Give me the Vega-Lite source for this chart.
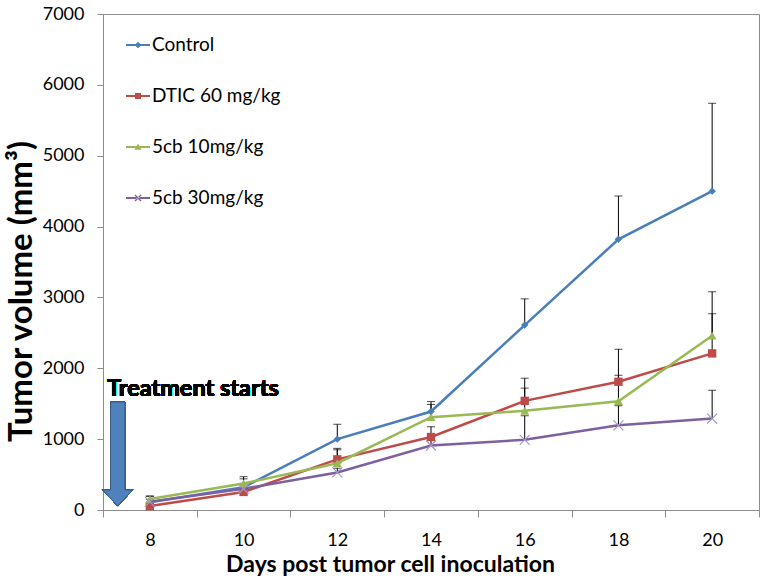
{
  "$schema": "https://vega.github.io/schema/vega-lite/v6.json",
  "width": 656,
  "height": 496,
  "autosize": {"type": "none"},
  "padding": {"left": 103, "top": 14, "right": 7, "bottom": 70},
  "background": "white",
  "config": {
    "view": {"stroke": "#8c8c8c", "strokeWidth": 1},
    "font": "Lato",
    "axis": {"grid": false, "labelColor": "#000000", "titleColor": "#000000", "domainColor": "#8c8c8c", "tickColor": "#8c8c8c"}
  },
  "data": {
    "values": [
      {"day": 8, "series": "Control", "volume": 110, "upper": 200},
      {"day": 10, "series": "Control", "volume": 320, "upper": 470},
      {"day": 12, "series": "Control", "volume": 1000, "upper": 1210},
      {"day": 14, "series": "Control", "volume": 1390, "upper": 1530},
      {"day": 16, "series": "Control", "volume": 2610, "upper": 2980},
      {"day": 18, "series": "Control", "volume": 3820, "upper": 4430},
      {"day": 20, "series": "Control", "volume": 4500, "upper": 5740},
      {"day": 8, "series": "DTIC 60 mg/kg", "volume": 55, "upper": 80},
      {"day": 10, "series": "DTIC 60 mg/kg", "volume": 255, "upper": 300},
      {"day": 12, "series": "DTIC 60 mg/kg", "volume": 715, "upper": 870},
      {"day": 14, "series": "DTIC 60 mg/kg", "volume": 1030, "upper": 1175},
      {"day": 16, "series": "DTIC 60 mg/kg", "volume": 1540, "upper": 1860},
      {"day": 18, "series": "DTIC 60 mg/kg", "volume": 1810, "upper": 2270},
      {"day": 20, "series": "DTIC 60 mg/kg", "volume": 2210, "upper": 2770},
      {"day": 8, "series": "5cb 10mg/kg", "volume": 155, "upper": 190},
      {"day": 10, "series": "5cb 10mg/kg", "volume": 375, "upper": 440},
      {"day": 12, "series": "5cb 10mg/kg", "volume": 660, "upper": 850},
      {"day": 14, "series": "5cb 10mg/kg", "volume": 1310, "upper": 1490},
      {"day": 16, "series": "5cb 10mg/kg", "volume": 1400, "upper": 1720},
      {"day": 18, "series": "5cb 10mg/kg", "volume": 1535, "upper": 1900},
      {"day": 20, "series": "5cb 10mg/kg", "volume": 2460, "upper": 3080},
      {"day": 8, "series": "5cb 30mg/kg", "volume": 115, "upper": 150},
      {"day": 10, "series": "5cb 30mg/kg", "volume": 300, "upper": 350},
      {"day": 12, "series": "5cb 30mg/kg", "volume": 530, "upper": 590},
      {"day": 14, "series": "5cb 30mg/kg", "volume": 910, "upper": 1000},
      {"day": 16, "series": "5cb 30mg/kg", "volume": 990, "upper": 1330},
      {"day": 18, "series": "5cb 30mg/kg", "volume": 1195, "upper": 1470},
      {"day": 20, "series": "5cb 30mg/kg", "volume": 1290, "upper": 1690}
    ]
  },
  "resolve": {"axis": {"x": "independent"}},
  "layer": [
    {
      "mark": {"type": "rule", "color": "#000000", "strokeWidth": 1},
      "encoding": {
        "x": {"field": "day", "type": "quantitative", "scale": {"domain": [7, 21], "nice": false, "zero": false},
          "axis": {"orient": "bottom", "values": [7, 9, 11, 13, 15, 17, 19, 21], "labels": false, "tickSize": 7, "title": null}},
        "y": {"field": "volume", "type": "quantitative", "scale": {"domain": [0, 7000], "nice": false},
          "axis": {"values": [0, 1000, 2000, 3000, 4000, 5000, 6000, 7000], "format": "d", "tickSize": 6, "labelFontSize": 18, "labelPadding": 13,
            "title": "Tumor volume (mm³)", "titleFont": "Lato", "titleFontWeight": "bold", "titleFontSize": 33,
            "titleAngle": -90, "titleX": -72, "titleY": 277, "titleAlign": "center", "titleBaseline": "alphabetic"}},
        "y2": {"field": "upper"}
      }
    },
    {
      "mark": {"type": "tick", "color": "#000000", "thickness": 1, "size": 8, "orient": "horizontal"},
      "encoding": {
        "x": {"field": "day", "type": "quantitative",
          "axis": {"orient": "bottom", "values": [8, 10, 12, 14, 16, 18, 20], "ticks": false, "tickSize": 0, "domain": false, "labelFontSize": 18, "labelPadding": 21,
            "title": "Days post tumor cell inoculation", "titleFont": "Lato", "titleFontWeight": "bold", "titleFontSize": 23,
            "titleX": 287, "titleY": 61, "titleAlign": "center", "titleBaseline": "alphabetic"}},
        "y": {"field": "upper", "type": "quantitative"}
      }
    },
    {
      "transform": [{"filter": "datum.series === 'Control'"}],
      "mark": {"type": "line", "color": "#4a7ebb", "strokeWidth": 2.5,
        "point": {"shape": "diamond", "filled": true, "color": "#4a7ebb", "size": 55, "opacity": 1}},
      "encoding": {"x": {"field": "day", "type": "quantitative", "axis": null}, "y": {"field": "volume", "type": "quantitative"}}
    },
    {
      "transform": [{"filter": "datum.series === 'DTIC 60 mg/kg'"}],
      "mark": {"type": "line", "color": "#be4b48", "strokeWidth": 2.5,
        "point": {"shape": "square", "filled": true, "color": "#be4b48", "size": 70, "opacity": 1}},
      "encoding": {"x": {"field": "day", "type": "quantitative", "axis": null}, "y": {"field": "volume", "type": "quantitative"}}
    },
    {
      "transform": [{"filter": "datum.series === '5cb 10mg/kg'"}],
      "mark": {"type": "line", "color": "#98b954", "strokeWidth": 2.5,
        "point": {"shape": "triangle-up", "filled": true, "color": "#98b954", "size": 80, "opacity": 1}},
      "encoding": {"x": {"field": "day", "type": "quantitative", "axis": null}, "y": {"field": "volume", "type": "quantitative"}}
    },
    {
      "transform": [{"filter": "datum.series === '5cb 30mg/kg'"}],
      "mark": {"type": "line", "color": "#7d60a0", "strokeWidth": 2.5,
        "point": {"shape": "M-1,-1L1,1M-1,1L1,-1", "filled": false, "color": "#a897c4", "strokeWidth": 1.2, "size": 100, "opacity": 1}},
      "encoding": {"x": {"field": "day", "type": "quantitative", "axis": null}, "y": {"field": "volume", "type": "quantitative"}}
    },
    {
      "mark": {"type": "point", "filled": true, "clip": true, "opacity": 1},
      "encoding": {
        "x": {"field": "day", "type": "quantitative", "axis": null},
        "y": {"datum": -3000, "type": "quantitative"},
        "color": {"field": "series", "type": "nominal",
          "scale": {"domain": ["Control", "DTIC 60 mg/kg", "5cb 10mg/kg", "5cb 30mg/kg"], "range": ["#4a7ebb", "#be4b48", "#98b954", "#7d60a0"]},
          "legend": {"orient": "none", "legendX": 22, "legendY": 18, "title": null, "padding": 0, "labelFont": "Lato", "labelFontSize": 19,
            "labelColor": "#000000", "symbolSize": 576, "rowPadding": 28, "labelOffset": 1, "symbolOpacity": 1}},
        "shape": {"field": "series", "type": "nominal",
          "scale": {"domain": ["Control", "DTIC 60 mg/kg", "5cb 10mg/kg", "5cb 30mg/kg"],
            "range": [
              "M-1,-0.09L1,-0.09L1,0.09L-1,0.09ZM0,-0.27L0.27,0L0,0.27L-0.27,0Z",
              "M-1,-0.09L1,-0.09L1,0.09L-1,0.09ZM-0.25,-0.25L0.25,-0.25L0.25,0.25L-0.25,0.25Z",
              "M-1,-0.09L1,-0.09L1,0.09L-1,0.09ZM0,-0.3L0.3,0.22L-0.3,0.22Z",
              "M-1,-0.09L1,-0.09L1,0.09L-1,0.09ZM-0.29,-0.21L-0.21,-0.29L0.29,0.21L0.21,0.29ZM-0.29,0.21L-0.21,0.29L0.29,-0.21L0.21,-0.29Z"
            ]}}
      }
    },
    {
      "mark": {"type": "point", "shape": "M-0.138,-1L0.138,-1L0.138,0.69L0.288,0.69L0,1L-0.288,0.69L-0.138,0.69Z",
        "filled": true, "fill": "#4f81bd", "stroke": "#385d8a", "strokeWidth": 1, "size": 10816, "opacity": 1},
      "encoding": {
        "x": {"datum": 7.314, "type": "quantitative", "axis": null},
        "y": {"datum": 790, "type": "quantitative"}
      }
    },
    {
      "mark": {"type": "text", "text": "Treatment starts", "font": "Lato", "fontWeight": "bold", "fontSize": 23.5, "align": "left", "baseline": "alphabetic", "fill": "#000000"},
      "encoding": {
        "x": {"datum": 7.085, "type": "quantitative", "axis": null},
        "y": {"datum": 1609, "type": "quantitative"}
      }
    }
  ]
}
